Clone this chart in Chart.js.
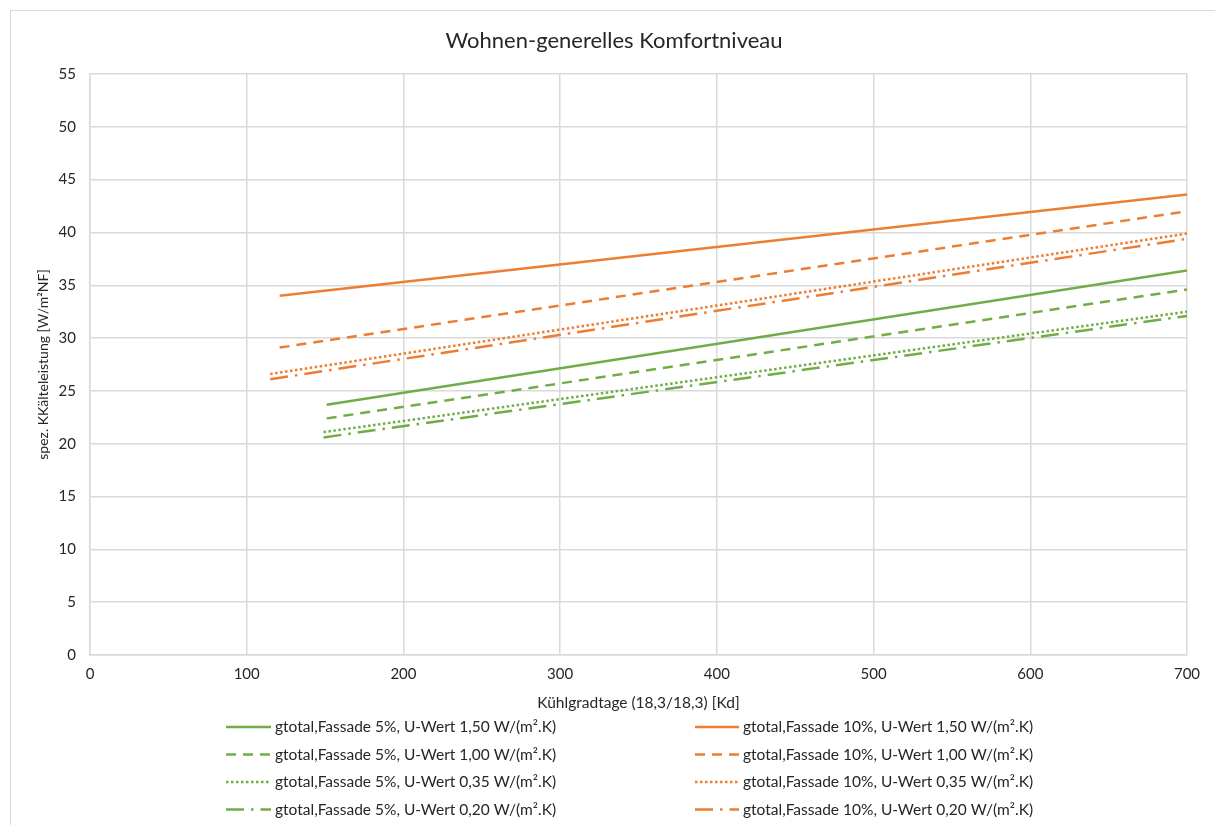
<!DOCTYPE html>
<html>
<head>
<meta charset="utf-8">
<script src="https://cdn.jsdelivr.net/npm/chart.js@4/dist/chart.umd.min.js"></script>
<style>
    html, body { margin: 0; padding: 0; background: #fff; }
    #wrap { width: 1215px; height: 825px; position: relative; }
</style>
</head>
<body>
<div id="wrap"><canvas id="coolingChart"></canvas></div>
<script>
// Series data: each curve is a straight line from its first to its last Kühlgradtag
var seriesLabels = [
    'gtotal,Fassade 5%, U-Wert 1,50 W/(m².K)',
    'gtotal,Fassade 5%, U-Wert 1,00 W/(m².K)',
    'gtotal,Fassade 5%, U-Wert 0,35 W/(m².K)',
    'gtotal,Fassade 5%, U-Wert 0,20 W/(m².K)',
    'gtotal,Fassade 10%, U-Wert 1,50 W/(m².K)',
    'gtotal,Fassade 10%, U-Wert 1,00 W/(m².K)',
    'gtotal,Fassade 10%, U-Wert 0,35 W/(m².K)',
    'gtotal,Fassade 10%, U-Wert 0,20 W/(m².K)'
];
var kdStart = [151, 151, 149, 149, 121, 121, 115, 115];
var kdEnd = [700, 700, 700, 700, 700, 700, 700, 700];
var powerStart = [23.7, 22.4, 21.1, 20.6, 34.0, 29.1, 26.6, 26.1];
var powerEnd = [36.4, 34.6, 32.5, 32.1, 43.6, 42.0, 39.9, 39.4];

var xTicks = [0, 100, 200, 300, 400, 500, 600, 700];
var yTicks = [0, 5, 10, 15, 20, 25, 30, 35, 40, 45, 50, 55];
var chartTitle = 'Wohnen-generelles Komfortniveau';

var GREEN = '#70AD47', ORANGE = '#ED7D31';
var seriesColors = [GREEN, GREEN, GREEN, GREEN, ORANGE, ORANGE, ORANGE, ORANGE];
var seriesDash = [[], [10, 7], [2.5, 2.5], [18, 7, 2.5, 7], [], [10, 7], [2.5, 2.5], [18, 7, 2.5, 7]];

var FONT = 'Lato, "Open Sans", sans-serif';
var TEXT = '#262626';
var GRID = '#d9d9d9';

var datasets = seriesLabels.map(function(label, i) {
    return {
        label: label,
        data: [{x: kdStart[i], y: powerStart[i]}, {x: kdEnd[i], y: powerEnd[i]}],
        borderColor: seriesColors[i],
        backgroundColor: seriesColors[i],
        borderWidth: 2.5,
        borderDash: seriesDash[i],
        pointRadius: 0,
        fill: false,
        tension: 0
    };
});

// Outer chart frame + title centred on the whole frame (as Excel does)
var framePlugin = {
    id: 'frame',
    beforeDraw: function(chart) {
        var ctx = chart.ctx;
        ctx.save();
        ctx.fillStyle = '#fff';
        ctx.fillRect(0, 0, chart.width, chart.height);
        ctx.strokeStyle = GRID;
        ctx.lineWidth = 1;
        ctx.strokeRect(10.5, 10.5, chart.width + 20, chart.height + 20);
        ctx.fillStyle = TEXT;
        ctx.font = '22px ' + FONT;
        ctx.textAlign = 'center';
        ctx.textBaseline = 'middle';
        ctx.fillText(chartTitle, 614, 41);
        ctx.restore();
    }
};

// Two-column legend below the x axis (column-major like the original)
var legendPlugin = {
    id: 'twoColLegend',
    afterDraw: function(chart) {
        var ctx = chart.ctx;
        var cols = [{x: 226, w: 45}, {x: 695, w: 44}];
        ctx.save();
        ctx.font = '15.5px ' + FONT;
        ctx.textBaseline = 'middle';
        ctx.fillStyle = TEXT;
        chart.data.datasets.forEach(function(ds, i) {
            var col = cols[Math.floor(i / 4)];
            var y = 727 + (i % 4) * 27.5;
            ctx.beginPath();
            ctx.strokeStyle = ds.borderColor;
            ctx.lineWidth = ds.borderWidth;
            ctx.setLineDash(ds.borderDash);
            ctx.moveTo(col.x, y);
            ctx.lineTo(col.x + col.w, y);
            ctx.stroke();
            ctx.setLineDash([]);
            ctx.fillText(ds.label, col.x + col.w + 4, y);
        });
        ctx.restore();
    }
};

var ctx = document.getElementById('coolingChart').getContext('2d');
var coolingChart = new Chart(ctx, {
    type: 'line',
    data: { datasets: datasets },
    plugins: [framePlugin, legendPlugin],
    options: {
        responsive: true,
        maintainAspectRatio: false,
        animation: false,
        layout: { padding: { left: 10, top: 74, right: 28, bottom: 110 } },
        plugins: {
            legend: { display: false },
            tooltip: { enabled: false },
            title: { display: false }
        },
        scales: {
            x: {
                type: 'linear',
                min: 0,
                max: 700,
                afterFit: function(scale) { scale.height = 60; },
                afterBuildTicks: function(scale) {
                    scale.ticks = xTicks.map(function(v) { return {value: v}; });
                },
                ticks: { color: TEXT, font: { family: FONT, size: 15 }, padding: 10, maxRotation: 0 },
                grid: { color: GRID, lineWidth: 1.5, drawTicks: false },
                border: { color: GRID, width: 1.5 },
                title: {
                    display: true,
                    text: 'Kühlgradtage (18,3/18,3) [Kd]',
                    color: TEXT,
                    font: { family: FONT, size: 15.5 },
                    padding: { top: 0, bottom: 3 }
                }
            },
            y: {
                min: 0,
                max: 55,
                afterFit: function(scale) { scale.width = 80; },
                afterBuildTicks: function(scale) {
                    scale.ticks = yTicks.map(function(v) { return {value: v}; });
                },
                ticks: { color: TEXT, font: { family: FONT, size: 15 }, padding: 14 },
                grid: { color: GRID, lineWidth: 1.5, drawTicks: false },
                border: { color: GRID, width: 1.5 },
                title: {
                    display: true,
                    text: 'spez. KKälteleistung [W/m²NF]',
                    color: TEXT,
                    font: { family: FONT, size: 14 },
                    padding: { top: 25, bottom: 0 }
                }
            }
        }
    }
});
</script>
</body>
</html>
